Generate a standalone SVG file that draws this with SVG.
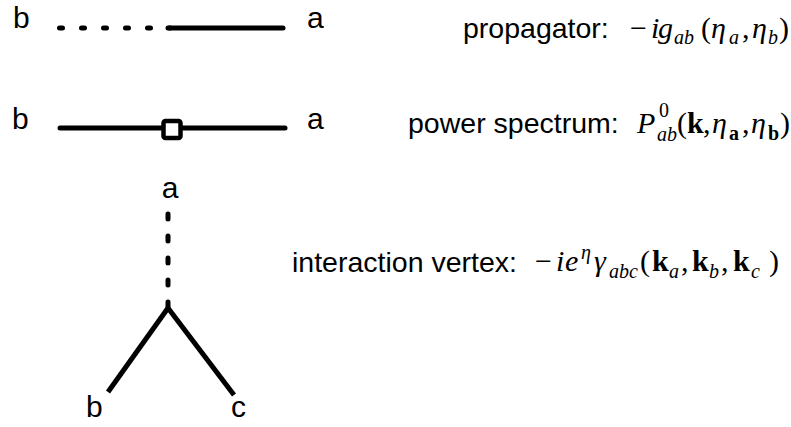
<svg xmlns="http://www.w3.org/2000/svg" width="791" height="427" viewBox="0 0 791 427">
<style>
.lbl{font-family:"Liberation Sans",Arial,sans-serif;font-size:30px;fill:#000}
.txt{font-family:"Liberation Sans",Arial,sans-serif;font-size:28.5px;fill:#000}
.m{font-family:"Liberation Serif","DejaVu Serif",serif;font-size:30px;fill:#000}
.mi{font-style:italic}
.mb{font-weight:bold}
.s{font-size:20px}
.ln{stroke:#000;stroke-width:5;fill:none;stroke-linecap:round}
.dh{stroke-dasharray:3 19}
.dv{stroke-dasharray:5 17}
.leg{stroke:#000;stroke-width:5;fill:none;stroke-linecap:butt}
</style>
<rect width="791" height="427" fill="#fff"/>
<g id="connectors">
<line class="ln dh" x1="59.5" y1="28" x2="170" y2="28"/>
<line class="ln" x1="168" y1="28" x2="283" y2="28"/>
<line class="ln" x1="60" y1="128" x2="285" y2="128"/>
<line class="ln dv" x1="168" y1="214" x2="168" y2="310"/>
<line class="leg" x1="168" y1="308" x2="108" y2="392"/>
<line class="leg" x1="168" y1="308" x2="234" y2="395"/>
</g>
<g id="propagator">
<text class="lbl" x="13" y="28">b</text>
<text class="lbl" x="307" y="28">a</text>
<text class="txt" x="463" y="38">propagator:</text>
<text class="m" y="38"><tspan x="630">−</tspan><tspan class="mi" x="651">i</tspan><tspan class="mi" x="658">g</tspan><tspan class="mi s" x="674" y="44">ab</tspan><tspan x="701" y="38">(</tspan><tspan class="mi" x="711">η</tspan><tspan class="mi s" x="729" y="44">a</tspan><tspan x="742" y="38">,</tspan><tspan class="mi" x="752">η</tspan><tspan class="mi s" x="768" y="44">b</tspan><tspan x="779" y="38">)</tspan></text>
</g>
<g id="power-spectrum">
<rect x="163.5" y="121" width="17" height="17" rx="2" fill="#fff" stroke="#000" stroke-width="4.5"/>
<text class="lbl" x="12" y="129">b</text>
<text class="lbl" x="307" y="129">a</text>
<text class="txt" x="408" y="133">power spectrum:</text>
<text class="m" y="133"><tspan class="mi" x="637">P</tspan><tspan class="s" x="659" y="117">0</tspan><tspan class="mi s" x="657" y="141">ab</tspan><tspan x="677" y="133">(</tspan><tspan class="mb" x="687">k</tspan><tspan x="703">,</tspan><tspan class="mi" x="712">η</tspan><tspan class="mb s" x="729" y="140">a</tspan><tspan x="742" y="133">,</tspan><tspan class="mi" x="751">η</tspan><tspan class="mb s" x="768" y="140">b</tspan><tspan x="780" y="133">)</tspan></text>
</g>
<g id="vertex">
<text class="lbl" x="170" y="198" text-anchor="middle">a</text>
<text class="lbl" x="86" y="417">b</text>
<text class="lbl" x="231" y="417">c</text>
<text class="txt" x="292" y="272">interaction vertex:</text>
<text class="m" y="271"><tspan x="535">−</tspan><tspan class="mi" x="556">i</tspan><tspan class="mi" x="565">e</tspan><tspan class="mi s" x="581" y="259">η</tspan><tspan class="mi" x="594" y="271">γ</tspan><tspan class="mi s" x="609" y="278">abc</tspan><tspan x="640" y="271">(</tspan><tspan class="mb" x="652">k</tspan><tspan class="mi s" x="669" y="278">a</tspan><tspan x="681" y="271">,</tspan><tspan class="mb" x="692">k</tspan><tspan class="mi s" x="709" y="278">b</tspan><tspan x="721" y="271">,</tspan><tspan class="mb" x="733">k</tspan><tspan class="mi s" x="751" y="278">c</tspan><tspan x="769" y="271">)</tspan></text>
</g>
</svg>
